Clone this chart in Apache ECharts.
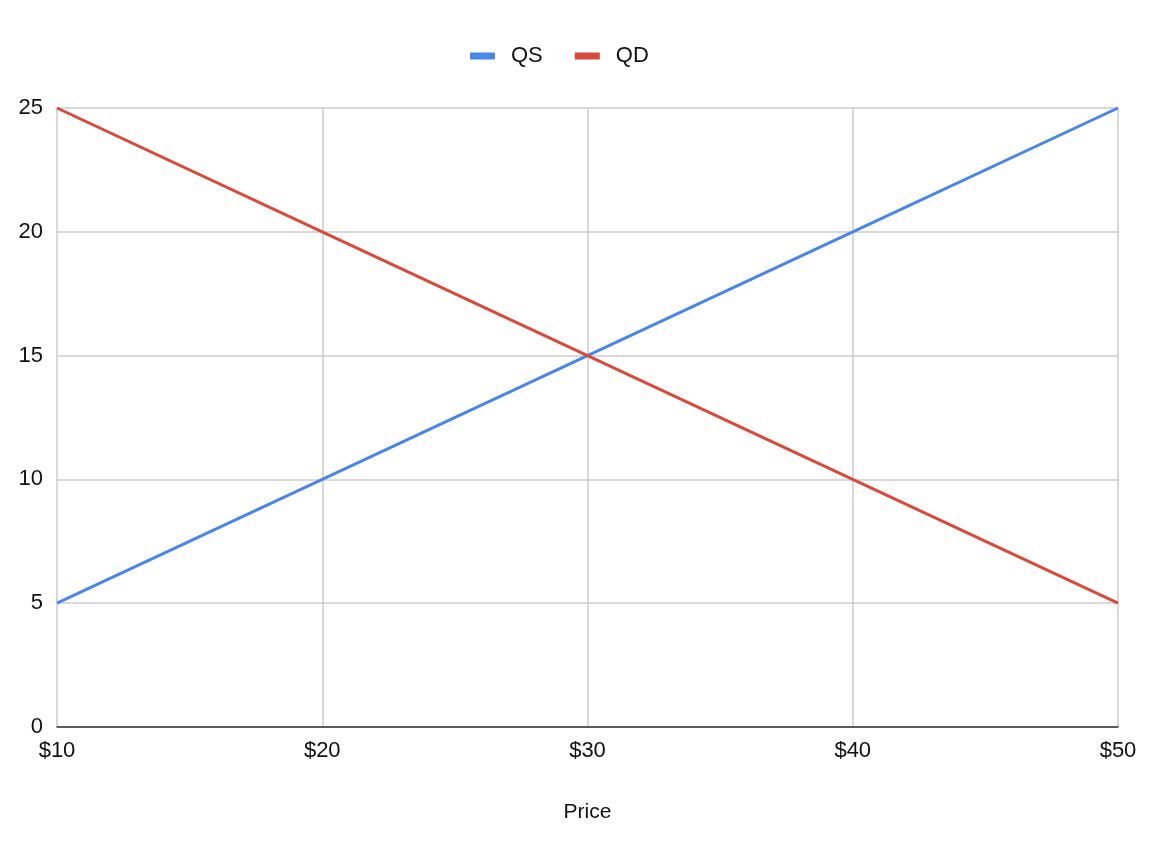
<!DOCTYPE html>
<html>
<head>
<meta charset="utf-8">
<script src="https://cdn.jsdelivr.net/npm/echarts@6/dist/echarts.min.js"></script>
<style>
  html, body { margin: 0; padding: 0; background: #fff; }
  #chart { width: 1162px; height: 842px; }
</style>
</head>
<body>
<div id="chart"></div>
<script>
const prices = ['$10', '$20', '$30', '$40', '$50']
const qs = [5, 10, 15, 20, 25]
const qd = [25, 20, 15, 10, 5]
const yTicks = { min: 0, max: 25, interval: 5 }

const font = 'Liberation Sans, Arial, sans-serif'
const chart = echarts.init(document.getElementById('chart'))
chart.setOption({
  animation: false,
  legend: {
    top: 40,
    left: 465,
    itemWidth: 25,
    itemHeight: 7,
    itemGap: 32,
    icon: 'rect',
    textStyle: { fontFamily: font, fontSize: 22, color: '#111', padding: [0, 0, 0, 11] },
    data: ['QS', 'QD']
  },
  grid: { left: 57, right: 44, top: 108, bottom: 115 },
  xAxis: {
    type: 'category',
    data: prices,
    boundaryGap: false,
    name: 'Price',
    nameLocation: 'middle',
    nameGap: 75,
    nameTextStyle: { fontFamily: font, fontSize: 21, color: '#111' },
    axisLine: { lineStyle: { color: '#333', width: 1.5 } },
    axisTick: { show: false },
    axisLabel: { fontFamily: font, fontSize: 22, color: '#111', margin: 13 },
    splitLine: { show: true, lineStyle: { color: '#ccc', width: 1.5 } }
  },
  yAxis: {
    type: 'value',
    min: yTicks.min,
    max: yTicks.max,
    interval: yTicks.interval,
    axisLine: { show: false },
    axisTick: { show: false },
    axisLabel: { fontFamily: font, fontSize: 22, color: '#111', margin: 14 },
    splitLine: { lineStyle: { color: '#ccc', width: 1.5 } }
  },
  series: [
    {
      name: 'QS',
      type: 'line',
      data: qs,
      showSymbol: false,
      color: '#4a86e8',
      lineStyle: { width: 3 }
    },
    {
      name: 'QD',
      type: 'line',
      data: qd,
      showSymbol: false,
      color: '#d84b3c',
      lineStyle: { width: 3 }
    }
  ]
})
</script>
</body>
</html>
